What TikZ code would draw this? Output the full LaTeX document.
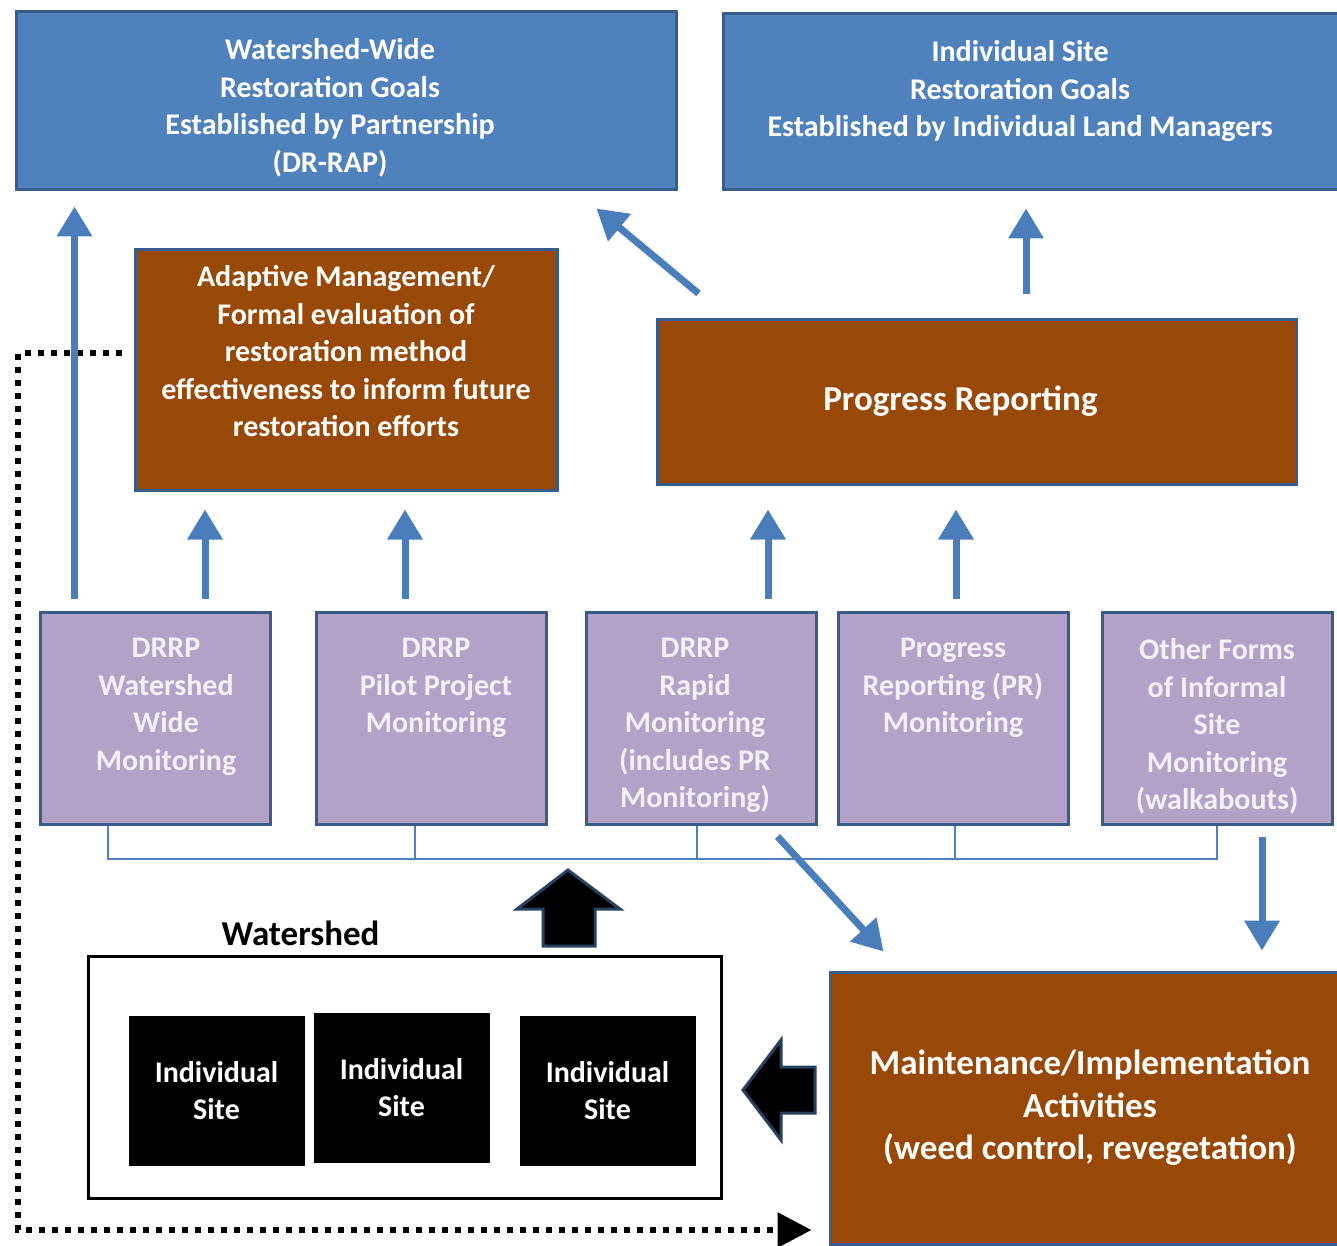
\documentclass[tikz,border=0pt]{standalone}
\usepackage{fontspec}
\setmainfont{Carlito}
\usetikzlibrary{positioning, arrows.meta}
\definecolor{goalblue}{HTML}{4F81BD}
\definecolor{edgeblue}{HTML}{385D8A}
\definecolor{mgmtbrown}{HTML}{984807}
\definecolor{monpurple}{HTML}{B3A2C7}
\definecolor{flowblue}{HTML}{4A7EBB}
\definecolor{monwhite}{HTML}{F4F0F8}

\newcommand{\toptext}[3]{\parbox[c][#1][t]{#2}{\centering #3}}

\begin{document}
\begin{tikzpicture}[x=0.5pt,y=-0.5pt,
  every node/.style={font=\bfseries\fontsize{15}{18.75}\selectfont,inner sep=0pt},
  goal/.style={draw=edgeblue,fill=goalblue,line width=1.5pt,text=white},
  mgmt/.style={draw=edgeblue,fill=mgmtbrown,line width=1.5pt,text=white},
  mon/.style={draw=edgeblue,fill=monpurple,line width=1.5pt,text=monwhite,minimum width=115pt,minimum height=106pt},
  site/.style={draw=black,fill=black,text=white,align=center,minimum width=87.5pt,minimum height=74.5pt},
  flow/.style={draw=flowblue,line width=3.5pt,-{Triangle[width=17pt,length=15pt]}},
  bus/.style={draw=goalblue,line width=1pt},
  blockarrow/.style={fill=black,draw=edgeblue!70!black,line width=1.5pt,line join=miter},
  loopback/.style={draw=black,line width=3pt,dash pattern=on 3pt off 3.5pt,-{Triangle[width=17pt,length=17pt]}}]
\useasboundingbox (0,0) rectangle (1337,1246);
\fill[white] (0,0) rectangle (1337,1246);
\clip (0,0) rectangle (1337,1246);

\node[goal,minimum width=330pt,minimum height=89pt] (wwgoals) at (346,101) {\toptext{62.5pt}{300pt}{Watershed-Wide\\Restoration Goals\\Established by Partnership\\(DR-RAP)}\hspace*{16pt}};
\node[goal,minimum width=314pt,minimum height=88pt] (sitegoals) at (1037,102) {\toptext{61.5pt}{290pt}{Individual Site\\Restoration Goals\\Established by Individual Land Managers}\hspace*{17pt}};
\node[mgmt,minimum width=211pt,minimum height=120.5pt] (adaptive) at (346,369.5) {\toptext{104pt}{208pt}{Adaptive Management/\\Formal evaluation of\\restoration method\\effectiveness to inform future\\restoration efforts}};
\node[mgmt,minimum width=319.5pt,minimum height=82.5pt,font=\bfseries\fontsize{17.5}{21}\selectfont] (progress) at (976.5,401.5) {Progress Reporting\hspace*{16pt}};

\node[mon] (pm1) at (155,718) {\hspace*{11pt}\toptext{79.5pt}{100pt}{DRRP\\Watershed\\Wide\\Monitoring}};
\node[mon] (pm2) at (431,718) {\hspace*{5pt}\toptext{79.5pt}{100pt}{DRRP\\Pilot Project\\Monitoring}};
\node[mon] (pm3) at (701,718) {\toptext{79.5pt}{100pt}{DRRP\\Rapid\\Monitoring\\(includes PR\\Monitoring)}\hspace*{6pt}};
\node[mon] (pm4) at (953,718) {\toptext{79.5pt}{100pt}{Progress\\Reporting (PR)\\Monitoring}};
\node[mon] (pm5) at (1217,718) {\toptext{79.5pt}{100pt}{Other Forms\\of Informal\\Site\\Monitoring\\(walkabouts)}};

\node[draw=black,line width=1.5pt,fill=white,minimum width=316.5pt,minimum height=121pt] (watershed) at (404.5,1077) {};
\node[font=\bfseries\fontsize{17.5}{21}\selectfont] (wslabel) [above=4pt of watershed,xshift=-52pt] {Watershed};
\node[site] (site1) at (216.5,1090.5) {Individual\\Site};
\node[site] (site2) at (401.5,1087.5) {Individual\\Site};
\node[site] (site3) at (607.5,1090.5) {Individual\\Site};
\node[mgmt,minimum width=260pt,minimum height=136pt,align=center,font=\bfseries\fontsize{17.5}{21.25}\selectfont] (maint) at (1090,1108) {Maintenance/Implementation\\Activities\\(weed control, revegetation)};

\coordinate (corner) at (18,1230);
\draw[loopback,shorten <=6pt,shorten >=8.5pt] ([yshift=8.25pt]adaptive.west) -| (corner) -- (corner -| maint.west);

\draw[bus] ([xshift=-23.5pt]pm1.south) -- ++(0,33) -| (pm5.south);
\foreach \n/\s in {pm2/-8,pm3/-2,pm4/1}
  \draw[bus] ([xshift=\s pt]\n.south) -- ++(0,33);

\coordinate (f1) at ([xshift=18pt]pm1.north west);
\coordinate (f2) at ([xshift=25pt]pm1.north);
\coordinate (f3) at ([xshift=-13pt]pm2.north);
\coordinate (f4) at ([xshift=33.5pt]pm3.north);
\coordinate (f5) at ([xshift=1.5pt]pm4.north);
\coordinate (g) at ([xshift=-5.5pt]sitegoals.south);
\coordinate (i) at ([xshift=22.5pt]pm5.south);
\draw[flow,shorten <=6pt,shorten >=7.5pt] (f1) -- (f1 |- wwgoals.south);
\draw[flow,shorten <=6pt,shorten >=9pt] (f2) -- (f2 |- adaptive.south);
\draw[flow,shorten <=6pt,shorten >=9pt] (f3) -- (f3 |- adaptive.south);
\draw[flow,shorten <=6pt,shorten >=12pt] (f4) -- (f4 |- progress.south);
\draw[flow,shorten <=6pt,shorten >=12pt] (f5) -- (f5 |- progress.south);
\draw[flow] ([xshift=21.5pt,yshift=12pt]progress.north west) -- ([xshift=-40.5pt,yshift=-8.5pt]wwgoals.south east);
\draw[flow,shorten <=12pt,shorten >=8.5pt] (g |- progress.north) -- (g);
\draw[flow] ([xshift=-20pt,yshift=-5.5pt]pm3.south east) -- ([xshift=27.5pt,yshift=9.5pt]maint.north west);
\draw[flow,shorten <=5.5pt,shorten >=10pt] (i) -- (i |- maint.north);

\draw[blockarrow] (543,946) -- (543,909) -- (517,909) -- (568,870) -- (620,909) -- (595,909) -- (595,946) -- cycle;
\draw[blockarrow] (815,1067) -- (781,1067) -- (781,1040) -- (743,1090) -- (781,1140) -- (781,1113) -- (815,1113) -- cycle;
\end{tikzpicture}
\end{document}
